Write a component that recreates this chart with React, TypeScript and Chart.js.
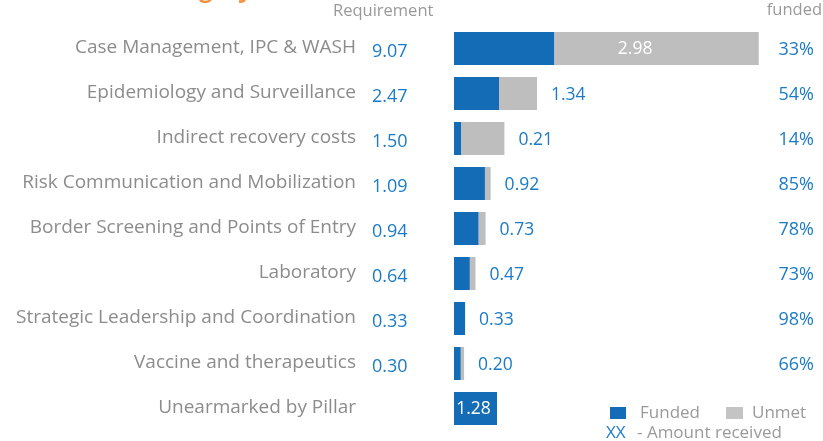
import React, { useEffect, useRef } from "react";
import { Chart, registerables } from "chart.js";

Chart.register(...registerables);

const categories = [
  "Case Management, IPC & WASH",
  "Epidemiology and Surveillance",
  "Indirect recovery costs",
  "Risk Communication and Mobilization",
  "Border Screening and Points of Entry",
  "Laboratory",
  "Strategic Leadership and Coordination",
  "Vaccine and therapeutics",
  "Unearmarked by Pillar",
];
const requirement: (number | null)[] = [9.07, 2.47, 1.5, 1.09, 0.94, 0.64, 0.33, 0.3, null];
const funded = [2.98, 1.34, 0.21, 0.92, 0.73, 0.47, 0.33, 0.2, 1.28];
const percentFunded: (number | null)[] = [33, 54, 14, 85, 78, 73, 98, 66, null];

const unmet = requirement.map((r, i) => (r == null ? 0 : Math.max(0, +(r - funded[i]).toFixed(2))));

const BLUE = "#136cb5";
const GREY = "#bebebe";
const BLUE_TEXT = "#1b7bc6";
const LABEL_GREY = "#8c8c8c";
const FONT = "'Open Sans', sans-serif";

const overlay = {
  id: "overlay",
  afterDatasetsDraw(chart: any) {
    const { ctx } = chart;
    const x = chart.scales.x;
    const y = chart.scales.y;
    ctx.save();
    ctx.textBaseline = "middle";
    // header
    ctx.fillStyle = "#999999";
    ctx.font = `16.5px ${FONT}`;
    ctx.textAlign = "left";
    ctx.fillText("Requirement", 333, 11);
    ctx.textAlign = "right";
    ctx.fillText("funded", 822, 10);
    // cut-off title (only descenders visible)
    ctx.fillStyle = "#f7913d";
    ctx.font = `bold 24px ${FONT}`;
    ctx.textAlign = "right";
    ctx.textBaseline = "alphabetic";
    ctx.fillText("Category", 252, -3);
    ctx.textBaseline = "middle";

    categories.forEach((cat, i) => {
      const cy = y.getPixelForValue(i);
      ctx.fillStyle = LABEL_GREY;
      ctx.font = `19px ${FONT}`;
      ctx.textAlign = "right";
      ctx.fillText(cat, 356, cy - 0.5);
      const req = requirement[i];
      if (req != null) {
        ctx.fillStyle = BLUE_TEXT;
        ctx.font = `18px ${FONT}`;
        ctx.textAlign = "left";
        ctx.fillText(req.toFixed(2), 372, cy + 3);
      }
      const f = funded[i];
      const fEnd = x.getPixelForValue(f);
      const total = x.getPixelForValue(f + unmet[i]);
      ctx.font = `17.5px ${FONT}`;
      if (unmet[i] === 0 && req == null) {
        ctx.fillStyle = "#ffffff";
        ctx.textAlign = "center";
        ctx.fillText(f.toFixed(2), (x.getPixelForValue(0) + fEnd) / 2 - 2, cy + 1);
      } else if (total - fEnd > 120) {
        ctx.fillStyle = "#ffffff";
        ctx.textAlign = "center";
        ctx.fillText(f.toFixed(2), fEnd + 81, cy + 1);
      } else {
        ctx.fillStyle = BLUE_TEXT;
        ctx.textAlign = "left";
        ctx.fillText(f.toFixed(2), total + 14, cy + 1.5);
      }
      const p = percentFunded[i];
      if (p != null) {
        ctx.fillStyle = BLUE_TEXT;
        ctx.font = `18px ${FONT}`;
        ctx.textAlign = "right";
        ctx.fillText(`${p}%`, 814, cy + 1);
      }
    });

    // legend
    ctx.fillStyle = BLUE;
    ctx.fillRect(610, 407, 16, 12);
    ctx.fillStyle = "#c4c4c4";
    ctx.fillRect(726, 407, 17, 12);
    ctx.fillStyle = "#9a9a9a";
    ctx.font = `17px ${FONT}`;
    ctx.textAlign = "left";
    ctx.fillText("Funded", 640, 413);
    ctx.fillText("Unmet", 752, 413);
    ctx.fillText("- Amount received", 637, 433);
    ctx.fillStyle = BLUE_TEXT;
    ctx.fillText("XX", 606, 433);
    ctx.restore();
  },
};

export default function App() {
  const ref = useRef<HTMLCanvasElement | null>(null);
  useEffect(() => {
    if (!ref.current) return;
    const chart = new Chart(ref.current, {
      type: "bar",
      data: {
        labels: categories,
        datasets: [
          { label: "Funded", data: funded, backgroundColor: BLUE, barPercentage: 0.733, categoryPercentage: 1 },
          { label: "Unmet", data: unmet, backgroundColor: GREY, barPercentage: 0.733, categoryPercentage: 1 },
        ],
      },
      options: {
        indexAxis: "y",
        animation: false,
        responsive: false,
        maintainAspectRatio: false,
        layout: { padding: { left: 454, right: 33, top: 26, bottom: 10 } },
        plugins: { legend: { display: false }, tooltip: { enabled: false }, title: { display: false } },
        scales: {
          x: { stacked: true, min: 0, max: 10, display: false },
          y: { stacked: true, display: false },
        },
      },
      plugins: [overlay],
    });
    return () => chart.destroy();
  }, []);
  return (
    <div style={{ position: "absolute", left: 0, top: 0, width: 823, height: 441, background: "#fff" }}>
      <canvas ref={ref} width={823} height={441} />
    </div>
  );
}
